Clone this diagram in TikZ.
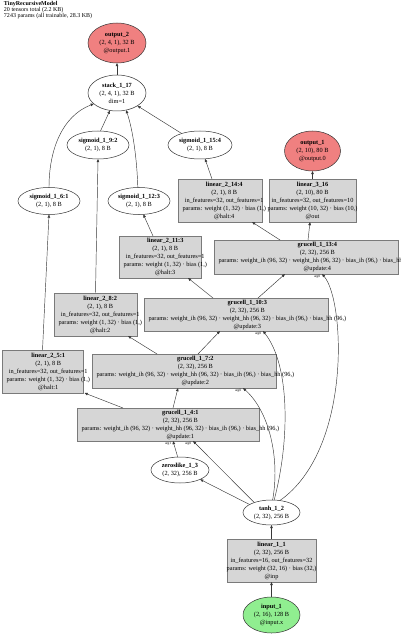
\documentclass[tikz,border=0pt]{standalone}
\usepackage{fontspec}
\setmainfont{Liberation Serif}
\usetikzlibrary{arrows.meta,shapes.geometric}
\definecolor{boxfill}{HTML}{D6D6D6}
\definecolor{boxline}{HTML}{7A7A7A}
\definecolor{outfill}{HTML}{F08080}
\definecolor{infill}{HTML}{90EE90}
\definecolor{edgecol}{HTML}{383838}
\begin{document}
\begin{tikzpicture}[x=1pt,y=-1pt,
  every node/.style={inner sep=0pt,outer sep=0pt},
  txt/.style={font=\fontsize{6.3}{8}\selectfont, align=center},
  opbox/.style={draw=boxline, fill=boxfill, line width=0.7pt, rectangle},
  tensor/.style={ellipse, draw=black!80, line width=0.5pt, txt},
  edge/.style={draw=edgecol, line width=0.45pt, -{Triangle[length=3.2pt,width=2.6pt]}},
  lbl/.style={font=\fontsize{3.4}{4}\selectfont, inner sep=0pt},
]
\useasboundingbox (0,0) rectangle (400,636);
\clip (0,0) rectangle (400,636);

% title
\node[anchor=north west, align=left, font=\fontsize{6}{6}\selectfont] (title) at (4,1.5)
  {\textbf{TinyRecursiveModel}\\20 tensors total (2.2 KB)\\7243 params (all trainable, 28.3 KB)};

% tensor ellipses
\node[tensor, fill=outfill, minimum width=58pt, minimum height=40pt] (out2) at (117,43)
  {\textbf{output\_2}\\(2, 4, 1), 32 B\\@output.1};
\node[tensor, minimum width=58pt, minimum height=36pt] (stack) at (117,93)
  {\textbf{stack\_1\_17}\\(2, 4, 1), 32 B\\dim=1};
\node[tensor, minimum width=62pt, minimum height=28pt] (sig9) at (98,145)
  {\textbf{sigmoid\_1\_9:2}\\(2, 1), 8 B};
\node[tensor, minimum width=64pt, minimum height=28pt] (sig15) at (200,145)
  {\textbf{sigmoid\_1\_15:4}\\(2, 1), 8 B};
\node[tensor, fill=outfill, minimum width=56pt, minimum height=40pt] (out1) at (312.5,151)
  {\textbf{output\_1}\\(2, 10), 80 B\\@output.0};
\node[tensor, minimum width=62pt, minimum height=27pt] (sig6) at (49,201)
  {\textbf{sigmoid\_1\_6:1}\\(2, 1), 8 B};
\node[tensor, minimum width=62pt, minimum height=27pt] (sig12) at (139,201)
  {\textbf{sigmoid\_1\_12:3}\\(2, 1), 8 B};
\node[tensor, minimum width=58pt, minimum height=26pt] (zl) at (180,470)
  {\textbf{zeroslike\_1\_3}\\(2, 32), 256 B};
\node[tensor, minimum width=57pt, minimum height=25pt] (tanh) at (271.5,512.5)
  {\textbf{tanh\_1\_2}\\(2, 32), 256 B};
\node[tensor, fill=infill, minimum width=57pt, minimum height=36pt] (in1) at (271.5,615)
  {\textbf{input\_1}\\(2, 16), 128 B\\@input.x};

% operation boxes
\node[opbox, minimum width=84pt, minimum height=43pt] (l14) at (220,200.5) {};
\node[txt, anchor=west] (l14t) at ([xshift=4.5pt]l14.west)
  {\textbf{linear\_2\_14:4}\\(2, 1), 8 B\\in\_features=32, out\_features=1\\params: weight (1, 32) · bias (1,)\\@halt:4};
\node[opbox, minimum width=87pt, minimum height=43pt] (l316) at (312.5,200.5) {};
\node[txt] (l316t) at (l316.center)
  {\textbf{linear\_3\_16}\\(2, 10), 80 B\\in\_features=32, out\_features=10\\params: weight (10, 32) · bias (10,)\\@out};
\node[opbox, minimum width=184pt, minimum height=34pt] (g13) at (306,257) {};
\node[txt, anchor=west] (g13t) at ([xshift=4.5pt]g13.west)
  {\textbf{grucell\_1\_13:4}\\(2, 32), 256 B\\params: weight\_ih (96, 32) · weight\_hh (96, 32) · bias\_ih (96,) · bias\_hh (96,)\\@update:4};
\node[opbox, minimum width=82pt, minimum height=42pt] (l11) at (160,257) {};
\node[txt, anchor=west] (l11t) at ([xshift=4.5pt]l11.west)
  {\textbf{linear\_2\_11:3}\\(2, 1), 8 B\\in\_features=32, out\_features=1\\params: weight (1, 32) · bias (1,)\\@halt:3};
\node[opbox, minimum width=184pt, minimum height=33pt] (g10) at (236,314.5) {};
\node[txt, anchor=west] (g10t) at ([xshift=4.5pt]g10.west)
  {\textbf{grucell\_1\_10:3}\\(2, 32), 256 B\\params: weight\_ih (96, 32) · weight\_hh (96, 32) · bias\_ih (96,) · bias\_hh (96,)\\@update:3};
\node[opbox, minimum width=83pt, minimum height=43pt] (l8) at (95.5,314.5) {};
\node[txt, anchor=west] (l8t) at ([xshift=4.5pt]l8.west)
  {\textbf{linear\_2\_8:2}\\(2, 1), 8 B\\in\_features=32, out\_features=1\\params: weight (1, 32) · bias (1,)\\@halt:2};
\node[opbox, minimum width=81pt, minimum height=43pt] (l5) at (42.5,371.5) {};
\node[txt, anchor=west] (l5t) at ([xshift=4.5pt]l5.west)
  {\textbf{linear\_2\_5:1}\\(2, 1), 8 B\\in\_features=32, out\_features=1\\params: weight (1, 32) · bias (1,)\\@halt:1};
\node[opbox, minimum width=184pt, minimum height=34pt] (g7) at (184,371) {};
\node[txt, anchor=west] (g7t) at ([xshift=4.5pt]g7.west)
  {\textbf{grucell\_1\_7:2}\\(2, 32), 256 B\\params: weight\_ih (96, 32) · weight\_hh (96, 32) · bias\_ih (96,) · bias\_hh (96,)\\@update:2};
\node[opbox, minimum width=182pt, minimum height=33pt] (g4) at (168,424.5) {};
\node[txt, anchor=west] (g4t) at ([xshift=4.5pt]g4.west)
  {\textbf{grucell\_1\_4:1}\\(2, 32), 256 B\\params: weight\_ih (96, 32) · weight\_hh (96, 32) · bias\_ih (96,) · bias\_hh (96,)\\@update:1};
\node[opbox, minimum width=89pt, minimum height=43pt] (l1) at (271.5,560.5) {};
\node[txt] (l1t) at (l1.center)
  {\textbf{linear\_1\_1}\\(2, 32), 256 B\\in\_features=16, out\_features=32\\params: weight (32, 16) · bias (32,)\\@inp};

% connectors
\draw[edge] (stack) -- (out2);
\draw[edge] (sig6.north) .. controls (49,150) and (62,116) .. (stack.205);
\draw[edge] (sig9.80) -- (stack.248);
\draw[edge] (sig12.95) .. controls (137,160) and (133,130) .. (stack.298);
\draw[edge] (sig15) -- (stack);
\draw[edge] (l5.north) -- (sig6.south);
\draw[edge] (l8.north) -- (sig9.south);
\draw[edge] ([xshift=-7pt]l11.north) -- (sig12.-72);
\draw[edge] ([xshift=-8pt]l14.north) -- (sig15.-70);
\draw[edge] (l316) -- (out1);
\draw[edge] ([xshift=-26pt]g13.north) -- ([xshift=32pt]l14.south);
\draw[edge] ([xshift=2pt]g13.north) -- ([xshift=-2.5pt]l316.south);
\draw[edge] ([xshift=-23pt]g10.north) -- ([xshift=28pt]l11.south);
\draw[edge] ([xshift=22pt]g10.north) -- ([xshift=-21pt]g13.south);
\draw[edge] ([xshift=-27pt]g7.north) -- ([xshift=32.5pt]l8.south);
\draw[edge] ([xshift=14pt]g7.north) -- ([xshift=-16pt]g10.south);
\draw[edge] ([xshift=-45pt]g4.north) -- ([xshift=1.5pt]l5.south east);
\draw[edge] ([xshift=5pt]g4.north) -- ([xshift=-6pt]g7.south);
\draw[edge] (zl.100) -- ([xshift=5pt]g4.south);
\draw[edge] (tanh.150) -- ([xshift=25pt]g4.south);
\draw[edge] (tanh.160) -- (zl.-25);
\draw[edge] (tanh.85) .. controls (280,460) and (270,412) .. ([xshift=59pt]g7.south);
\draw[edge] (tanh.78) .. controls (290,440) and (290,365) .. ([xshift=27pt]g10.south);
\draw[edge] (tanh.55) .. controls (352,450) and (345,300) .. ([xshift=16pt]g13.south);
\draw[edge] (l1) -- (tanh);
\draw[edge] (in1) -- (l1);

% argument labels
\node[lbl, anchor=north east] (a1) at ([xshift=3pt,yshift=-1pt]g4.south) {arg1};
\node[lbl, anchor=north east] (a2) at ([xshift=23pt,yshift=-1pt]g4.south) {arg0};
\node[lbl, anchor=north east] (a3) at ([xshift=57pt,yshift=-1pt]g7.south) {arg0};
\node[lbl, anchor=north east] (a4) at ([xshift=25pt,yshift=-1pt]g10.south) {arg0};
\node[lbl, anchor=north east] (a5) at ([xshift=14pt,yshift=-1pt]g13.south) {arg0};
\end{tikzpicture}
\end{document}
